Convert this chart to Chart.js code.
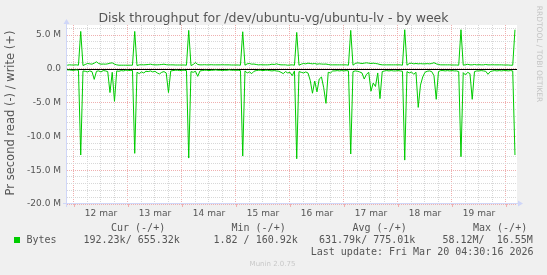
<!DOCTYPE html>
<html lang="en">
<head>
<meta charset="UTF-8">
<title>Disk throughput - by week</title>
<style>
  html, body { margin: 0; padding: 0; background: #f0f0f0; }
  canvas { display: block; }
</style>
<script src="https://cdn.jsdelivr.net/npm/chart.js"></script>
</head>
<body>
<canvas id="chart" width="547" height="275"></canvas>
<script>
  // hourly samples, hour 0 = 12 mar 00:00, first sample 11 mar 21:00
  const firstHour = -3;

  // write (+), MB/s, one array per day
  const writePre = [0.55, 0.6, 0.58];
  const write12 = [0.58,0.6,0.55,5.55, 0.5,0.65,0.8,0.75, 0.7,0.85,1.05,0.8, 0.7,0.72,0.7,0.75, 0.85,0.9,0.7,0.6, 0.55,0.55,0.55,0.55];
  const write13 = [0.55,0.55,0.55,5.55, 0.5,0.6,0.62,0.6, 0.62,0.65,0.7,0.62, 0.6,0.6,0.62,0.65, 0.7,0.62,0.6,0.6, 0.6,0.58,0.58,0.58];
  const write14 = [0.58,0.58,0.55,5.7, 0.5,0.65,0.95,0.65, 0.6,0.6,0.62,0.6, 0.6,0.62,0.6,0.6, 0.6,0.6,0.62,0.6, 0.6,0.6,0.58,0.58];
  const write15 = [0.58,0.58,0.55,5.5, 0.55,0.75,0.8,0.7, 0.72,0.65,0.6,0.62, 0.6,0.6,0.6,0.62, 0.7,0.65,0.75,0.65, 0.6,0.6,0.6,0.55];
  const write16 = [0.58,0.6,0.55,5.4, 0.55,0.7,0.8,0.75, 0.85,0.8,0.75,0.8, 0.7,0.75,0.72,0.7, 0.72,0.65,0.6,0.6, 0.6,0.6,0.6,0.6];
  const write17 = [0.6,0.6,0.55,5.7, 0.55,0.8,0.9,0.85, 0.8,0.85,0.9,0.85, 0.8,0.85,0.8,0.75, 0.65,0.6,0.6,0.6, 0.6,0.6,0.6,0.6];
  const write18 = [0.6,0.6,0.55,5.8, 0.55,0.8,0.85,0.75, 0.8,0.75,0.78,0.75, 0.75,0.78,0.75,0.8, 0.92,0.75,0.65,0.6, 0.6,0.6,0.6,0.6];
  const write19 = [0.58,0.58,0.58,0.55, 5.8,0.55,0.62,0.68, 0.6,0.6,0.65,0.6, 0.62,0.6,0.6,0.65, 0.6,0.6,0.62,0.6, 0.6,0.6,0.6,0.58];
  const writePost = [0.58, 0.58, 0.55, 0.55, 5.8];

  // read (-), MB/s
  const readPre = [-0.15, -0.15, -0.2];
  const read12 = [-0.2,-0.15,-0.2,-12.75, -0.3,-0.35,-0.45,-0.3, -0.4,-1.55,-0.35,-0.3, -0.45,-0.25,-0.3,-0.4, -3.5,-0.5,-4.8,-0.3, -0.35,-0.25,-0.3,-0.2];
  const read13 = [-0.2,-0.25,-0.2,-12.5, -0.5,-0.7,-0.45,-0.6, -0.35,-0.4,-0.3,-0.45, -0.35,-0.6,-0.75,-0.5, -0.4,-0.6,-3.5,-0.3, -0.25,-0.2,-0.2,-0.25];
  const read14 = [-0.2,-0.2,-0.25,-13.2, -0.4,-0.5,-0.35,-1.1, -0.3,-0.25,-0.2,-0.2, -0.25,-0.2,-0.2,-0.15, -0.2,-0.2,-0.25,-0.2, -0.2,-0.15,-0.2,-0.2];
  const read15 = [-0.2,-0.2,-0.25,-12.9, -0.3,-0.6,-0.45,-0.7, -0.35,-0.25,-0.2,-0.2, -0.25,-0.2,-0.2,-0.25, -0.3,-0.25,-0.3,-0.35, -0.5,-0.7,-0.4,-0.6];
  const read16 = [-0.5,-1.0,-0.3,-13.3, -0.4,-0.5,-0.6,-0.45, -0.6,-1.7,-3.6,-1.8, -3.4,-1.5,-1.2,-2.8, -5.1,-0.5,-0.6,-0.3, -0.3,-0.25,-0.3,-0.25];
  const read17 = [-0.3,-0.25,-0.3,-12.6, -0.4,-0.3,-0.35,-0.45, -0.6,-1.5,-0.8,-0.5, -3.3,-2.1,-2.6,-0.6, -4.4,-0.4,-0.3,-0.25, -0.3,-0.25,-0.3,-0.3];
  const read18 = [-0.25,-0.3,-0.35,-13.5, -0.4,-0.6,-0.45,-0.8, -0.5,-5.7,-2.4,-1.2, -0.5,-0.35,-0.3,-0.4, -1.0,-4.5,-0.4,-0.25, -0.25,-0.3,-0.25,-0.3];
  const read19 = [-0.25,-0.3,-0.3,-0.4, -13.0,-0.55,-0.9,-0.5, -0.7,-4.5,-0.4,-0.3, -0.3,-0.25,-0.3,-0.35, -0.8,-0.4,-0.3,-0.25, -0.3,-0.25,-0.3,-0.25];
  const readPost = [-0.25, -0.3, -0.25, -0.3, -12.75];

  const dayLabels = ['12 mar', '13 mar', '14 mar', '15 mar', '16 mar', '17 mar', '18 mar', '19 mar'];
  const yTickValues = [-20, -15, -10, -5, 0, 5];
  const yTickLabels = ['-20.0 M', '-15.0 M', '-10.0 M', '-5.0 M', '0.0', '5.0 M'];

  const legendHeads = ['Cur (-/+)', 'Min (-/+)', 'Avg (-/+)', 'Max (-/+)'];
  const legendValues = ['192.23k/ 655.32k', '1.82 / 160.92k', '631.79k/ 775.01k', '58.12M/  16.55M'];

  const writeVals = [].concat(writePre, write12, write13, write14, write15, write16, write17, write18, write19, writePost);
  const readVals = [].concat(readPre, read12, read13, read14, read15, read16, read17, read18, read19, readPost);
  const toPoints = vals => vals.map((v, i) => ({ x: firstHour + i, y: v }));

  const GREEN = '#00cc00';
  const MAJOR = '#efb0b0';
  const MINOR = '#d8d8d8';
  const AXIS = '#cfd6f8';

  const muninDecor = {
    id: 'muninDecor',
    beforeDraw(chart) {
      const { ctx, chartArea: a } = chart;
      ctx.save();
      ctx.fillStyle = '#f0f0f0';
      ctx.fillRect(0, 0, chart.width, chart.height);
      ctx.fillStyle = '#ffffff';
      ctx.fillRect(a.left, a.top, a.right - a.left, a.bottom - a.top);
      ctx.restore();
    },
    beforeDatasetsDraw(chart) {
      const { ctx, chartArea: a, scales } = chart;
      const y0 = Math.round(scales.y.getPixelForValue(0)) + 0.5;
      ctx.save();
      ctx.strokeStyle = '#000';
      ctx.lineWidth = 1;
      ctx.beginPath();
      ctx.moveTo(a.left, y0);
      ctx.lineTo(a.right, y0);
      ctx.stroke();
      // day ticks below the time axis
      ctx.strokeStyle = MAJOR;
      ctx.beginPath();
      scales.x.ticks.forEach(t => {
        if (t.value % 24 !== 0) return;
        const x = Math.round(scales.x.getPixelForValue(t.value)) + 0.5;
        ctx.moveTo(x, a.bottom);
        ctx.lineTo(x, a.bottom + 3);
      });
      ctx.stroke();
      // axes with arrows
      ctx.strokeStyle = AXIS;
      ctx.fillStyle = AXIS;
      ctx.beginPath();
      ctx.moveTo(a.left - 0.5, a.bottom + 3);
      ctx.lineTo(a.left - 0.5, a.top - 2);
      ctx.moveTo(a.left - 4, a.bottom - 0.5);
      ctx.lineTo(a.right + 1, a.bottom - 0.5);
      ctx.stroke();
      ctx.beginPath();
      ctx.moveTo(a.left - 3.5, a.top - 1);
      ctx.lineTo(a.left + 2.5, a.top - 1);
      ctx.lineTo(a.left - 0.5, a.top - 6);
      ctx.closePath();
      ctx.fill();
      ctx.beginPath();
      ctx.moveTo(a.right + 1, a.bottom - 3.5);
      ctx.lineTo(a.right + 1, a.bottom + 2.5);
      ctx.lineTo(a.right + 6, a.bottom - 0.5);
      ctx.closePath();
      ctx.fill();
      ctx.restore();
    },
    afterDraw(chart) {
      const { ctx } = chart;
      ctx.save();
      ctx.fillStyle = '#555';
      ctx.textBaseline = 'middle';
      ctx.textAlign = 'center';
      ctx.font = '12.5px "DejaVu Sans"';
      ctx.fillText('Disk throughput for /dev/ubuntu-vg/ubuntu-lv - by week', 273.5, 19);

      ctx.save();
      ctx.translate(11, 113);
      ctx.rotate(-Math.PI / 2);
      ctx.font = '11.5px "DejaVu Sans"';
      ctx.fillText('Pr second read (-) / write (+)', 0, 0);
      ctx.restore();

      ctx.save();
      ctx.translate(539, 54);
      ctx.rotate(Math.PI / 2);
      ctx.fillStyle = '#c4c4c4';
      ctx.font = '7.5px "DejaVu Sans"';
      ctx.fillText('RRDTOOL / TOBI OETIKER', 0, 0);
      ctx.restore();

      ctx.font = '10px "DejaVu Sans Mono"';
      ctx.textAlign = 'left';
      const headX = [111, 231.5, 352.5, 473];
      legendHeads.forEach((t, i) => ctx.fillText(t, headX[i], 228));
      const valX = [83.5, 213.5, 319, 442.5];
      legendValues.forEach((t, i) => ctx.fillText(t, valX[i], 240));
      ctx.fillText('Bytes', 26.5, 240);
      ctx.textAlign = 'right';
      ctx.fillText('Last update: Fri Mar 20 04:30:16 2026', 533.5, 252);
      ctx.fillStyle = GREEN;
      ctx.fillRect(14, 237, 6, 6);

      ctx.textAlign = 'center';
      ctx.fillStyle = '#c8c8c8';
      ctx.font = '7px "DejaVu Sans"';
      ctx.fillText('Munin 2.0.75', 272.5, 264);
      ctx.restore();
    }
  };

  new Chart(document.getElementById('chart'), {
    type: 'line',
    data: {
      datasets: [
        { label: 'read', data: toPoints(readVals), borderColor: GREEN, borderWidth: 1, pointRadius: 0, tension: 0, fill: false },
        { label: 'write', data: toPoints(writeVals), borderColor: GREEN, borderWidth: 1, pointRadius: 0, tension: 0, fill: false }
      ]
    },
    options: {
      responsive: false,
      animation: false,
      layout: { padding: { left: 0, top: 25, right: 30, bottom: 0 } },
      plugins: { legend: { display: false }, title: { display: false }, tooltip: { enabled: false } },
      scales: {
        x: {
          type: 'linear',
          min: -3.1,
          max: 196.9,
          afterFit: s => { s.height = 71; },
          afterBuildTicks: s => {
            const t = [];
            for (let h = 0; h <= 192; h += 6) t.push({ value: h });
            s.ticks = t;
          },
          ticks: {
            autoSkip: false,
            maxRotation: 0,
            padding: 4,
            color: '#555',
            font: { family: 'DejaVu Sans', size: 9 },
            callback: v => (v % 24 === 12 ? dayLabels[(v - 12) / 24] : '')
          },
          grid: {
            drawTicks: false,
            color: c => (c.tick && c.tick.value % 24 === 0 ? MAJOR : MINOR)
          },
          border: { display: false, dash: [1, 1] }
        },
        y: {
          min: -20,
          max: 6.5,
          afterFit: s => { s.width = 67; },
          afterBuildTicks: s => {
            const t = [];
            for (let v = -20; v <= 6; v++) t.push({ value: v });
            s.ticks = t;
          },
          ticks: {
            autoSkip: false,
            padding: 6,
            color: '#555',
            font: { family: 'DejaVu Sans', size: 9 },
            callback: v => {
              const i = yTickValues.indexOf(v);
              return i >= 0 ? yTickLabels[i] : '';
            }
          },
          grid: {
            drawTicks: false,
            color: c => (c.tick && c.tick.value % 5 === 0 ? MAJOR : MINOR)
          },
          border: { display: false, dash: [1, 1] }
        }
      }
    },
    plugins: [muninDecor]
  });
</script>
</body>
</html>
